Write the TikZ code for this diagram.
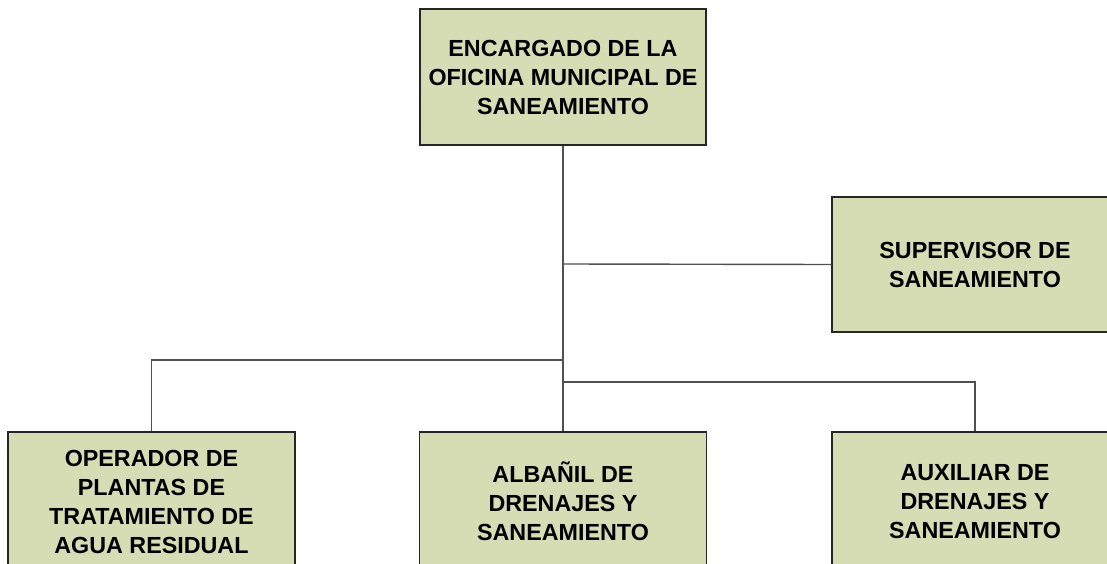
\documentclass[tikz,border=0pt]{standalone}
\usepackage{fontspec}
\setmainfont{Liberation Sans}
\definecolor{boxfill}{RGB}{214,220,180}
\definecolor{linegray}{RGB}{80,80,80}
\begin{document}
\begin{tikzpicture}[x=1pt,y=-1pt,
  orgbox/.style={draw=black!85, line width=1.5pt, fill=boxfill, inner sep=0pt,
    minimum width=#1, align=center, font=\bfseries\fontsize{23.3}{29}\selectfont},
  conn/.style={draw=linegray, line width=1.4pt},
  trunk/.style={draw=linegray, line width=2.8pt}]
\useasboundingbox (0,0) rectangle (1107,564);
\clip (0,0) rectangle (1107,564);
\node[orgbox=286pt, minimum height=136pt] (top) at (563,77) {ENCARGADO DE LA\\OFICINA MUNICIPAL DE\\SANEAMIENTO};
\node[orgbox=286pt, minimum height=135pt] (sup) at (975,264.5) {SUPERVISOR DE\\SANEAMIENTO};
\node[orgbox=287pt, minimum height=139pt] (op) at (151.5,501.5) {OPERADOR DE\\PLANTAS DE\\TRATAMIENTO DE\\AGUA RESIDUAL};
\node[orgbox=287pt, minimum height=139pt] (mid) at (563,501.5) {ALBAÑIL DE\\DRENAJES Y\\SANEAMIENTO};
\node[orgbox=286pt, minimum height=139pt] (aux) at (975,501.5) {AUXILIAR DE\\DRENAJES Y\\SANEAMIENTO};
\coordinate (jsup) at (563,264);
\coordinate (jleft) at (563,360);
\coordinate (jright) at (563,382);
\draw[trunk] (top.south) -- (jright);
\draw[conn] (jright) -- (mid.north);
\draw[conn] (jsup) -- (sup.west);
\draw[conn] (jleft) -| (op.north);
\draw[conn] (jright) -| (aux.north);
\end{tikzpicture}
\end{document}
